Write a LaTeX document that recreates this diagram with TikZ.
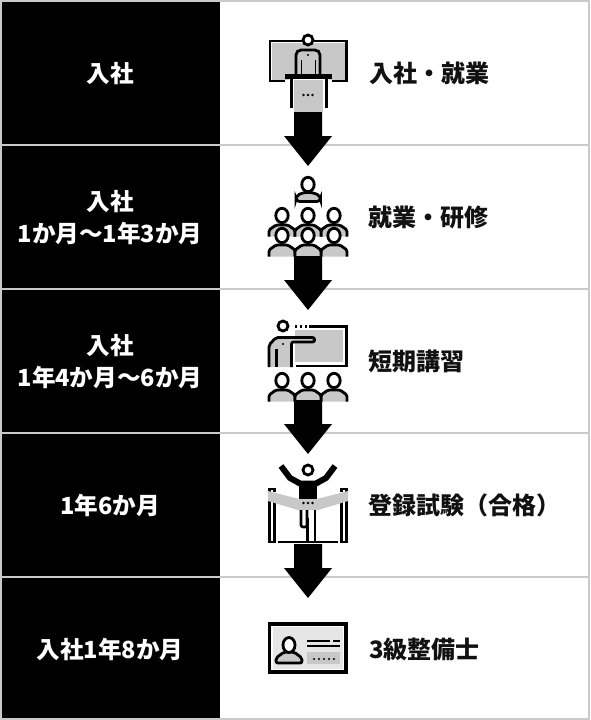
\documentclass[tikz,border=0pt]{standalone}
\usepackage{fontspec}
\setmainfont{Noto Sans CJK JP}
\usepackage{xcolor}
\definecolor{iconfill}{HTML}{C8C8C8}
\definecolor{cardfill}{HTML}{E6E6E6}
\definecolor{rule}{HTML}{C9C9C9}
\definecolor{ink}{HTML}{111111}
\tikzset{
  period/.style={fill=black, minimum width=220pt, minimum height=143pt, inner sep=0pt,
    text=white, align=center, font=\bfseries\fontsize{23.6}{32}\selectfont},
  task/.style={anchor=west, inner sep=0pt, text=ink, font=\bfseries\fontsize{24}{32}\selectfont},
  iconline/.style={line width=2.8pt, draw=black},
  person/.pic={
    \draw[iconline, fill=iconfill, rounded corners=1.5pt] (-13,21.5) -- (-13,15) -- (-6,10) -- (6,10) -- (13,15) -- (13,21.5);
    \draw[iconline, fill=white] (0,0.5) ellipse (6.2 and 7.2);
  }
}
\begin{document}
\begin{tikzpicture}[x=1pt, y=-1pt]
  \useasboundingbox (0,0) rectangle (590,720);
  \fill[white] (0,0) rectangle (590,720);

  % Rows
  \node[period] (start) at (110,73.5) {入社};
  \node[period] (first) at (110,217.5) {入社\\1か月～1年3か月};
  \node[period] (second) at (110,361.5) {入社\\1年4か月～6か月};
  \node[period] (third) at (110,505.5) {1年6か月};
  \node[period] (fourth) at (110,649.5) {入社1年8か月};
  \foreach \y in {145,289,433,577}
    \draw[rule, line width=2pt] (0,\y) -- (590,\y);
  \draw[rule, line width=2pt] (1,1) rectangle (589,719);

  % Tasks
  \node[task] (joining) at (369,73.5) {入社・就業};
  \node[task] (training) at (368,217.5) {就業・研修};
  \node[task] (course) at (368,361.5) {短期講習};
  \node[task] (exam) at (368,505.5) {登録試験（合格）};
  \node[task] (grade) at (369,649.5) {3級整備士};

  % Podium
  \fill[iconfill] (272,43) rectangle (345,80);
  \draw[iconline] (285,81) -- (270,81) -- (270,41) -- (346.5,41) -- (346.5,81) -- (332,81);
  \draw[line width=2.8pt, fill=white] (308,40) circle (5);
  \draw[iconline, fill=iconfill, rounded corners=5pt] (296,75) -- (296,50) -- (320,50) -- (320,75);
  \draw[black, line width=1pt] (301,60) -- (301,75) (315,60) -- (315,75);
  \fill (308,55) circle (1.2);
  \fill[white] (289,79) rectangle (329,112);
  \fill[iconfill] (294,80) rectangle (323,112);
  \draw[iconline] (291.5,79) -- (291.5,108) (326.5,79) -- (326.5,108);
  \fill (285,74) rectangle (332,79);
  \foreach \x in {303.5,308,312.5}
    \fill (\x,95) circle (1.3);

  % Group
  \draw[iconline, fill=iconfill, rounded corners=3.5pt] (296,201.5) -- (296,196) -- (303,192.5) -- (313,192.5) -- (320.5,196) -- (320.5,201.5) -- cycle;
  \draw[iconline, fill=white] (308,184.5) ellipse (6.2 and 7.2);
  \foreach \x in {282,334,308}
    \pic at (\x,215) {person};
  \foreach \x in {282,334,308}
    \pic at (\x,235) {person};

  % Lecture
  \fill[iconfill] (295,330) rectangle (343,362);
  \draw[iconline] (310,326.5) -- (346.5,326.5) -- (346.5,366) -- (296,366);
  \draw[line width=2.4pt, dash pattern=on 2.4pt off 2.4pt] (295,326.5) -- (310,326.5);
  \draw[iconline, fill=white] (283,326) circle (5);
  \draw[iconline, fill=iconfill, rounded corners=2pt] (269,367) -- (269,345)
    -- (276,337.5) -- (314.5,337.5) -- (314.5,342) -- (291.5,342) -- (291.5,367);
  \draw[iconline] (276.5,367) -- (276.5,349);
  \fill (283,344) circle (1.2);
  \foreach \x in {282,334,308}
    \pic at (\x,380) {person};

  % Finish
  \fill (299,482) -- (317,482) -- (317,503) -- (299,503) -- cycle;
  \draw[line width=6pt] (281,466) -- (290,478) -- (300,483.5) -- (316,483.5) -- (326,478) -- (335,466);
  \draw[line width=2.8pt, fill=white] (308,470) circle (5);
  \draw[iconline] (269.5,492) -- (269.5,489) -- (274.5,489) -- (274.5,492);
  \draw[iconline] (341.5,492) -- (341.5,489) -- (346.5,489) -- (346.5,492);
  \draw[iconline] (269.5,501) -- (269.5,542) -- (274.5,542) -- (274.5,501);
  \draw[iconline] (341.5,501) -- (341.5,542) -- (346.5,542) -- (346.5,501);
  \draw[iconline] (278,542) -- (338,542);
  \fill[iconfill] (268,491) -- (299,499) -- (317,499) -- (348,491) -- (348,501) -- (318,510) -- (298,510) -- (268,501) -- cycle;
  \foreach \x in {303.5,308,312.5}
    \fill (\x,503) circle (1.3);
  \draw[line width=2.6pt, rounded corners=2pt] (301,510) -- (301,527) -- (307,527) -- (307,510);
  \draw[line width=2.6pt] (307.5,518) -- (307.5,542) (315,510) -- (315,542);

  % Certificate
  \draw[line width=3.2pt, fill=cardfill, draw=black] (269.5,624) rectangle (346,672);
  \draw[white, line width=1.5pt] (272,626.5) rectangle (343.5,669.5);
  \draw[iconline, fill=iconfill, rounded corners=2pt] (276,663) -- (276,658) -- (284,652) -- (294,652) -- (302,658) -- (302,663) -- cycle;
  \draw[iconline, fill=white] (289,645) ellipse (6 and 7.5);
  \fill[iconfill] (307,652) rectangle (340,664);
  \draw[line width=2.2pt] (307,641) -- (330,641) (333,641) -- (340,641) (307,646) -- (340,646);
  \foreach \x in {314,319,324,329,334}
    \fill (\x,659) circle (1.2);

  % Arrows between rows
  \foreach \y in {0,144,288,432}
    \fill (294,112+\y) -- (322,112+\y) -- (322,136+\y) -- (332,136+\y) -- (308,166+\y)
      -- (284,136+\y) -- (294,136+\y) -- cycle;
\end{tikzpicture}
\end{document}
